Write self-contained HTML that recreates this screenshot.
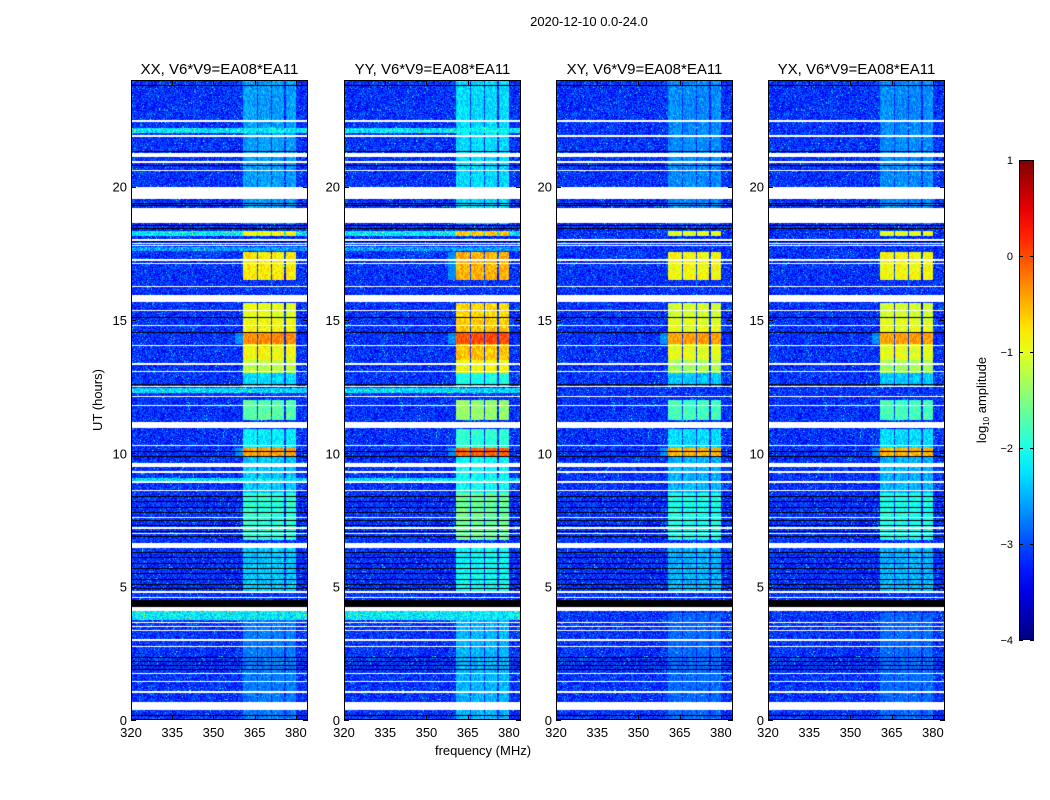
<!DOCTYPE html>
<html><head><meta charset="utf-8">
<style>
body{margin:0;background:#fff;width:1050px;height:800px;overflow:hidden;font-family:"Liberation Sans",sans-serif}
svg text{font-family:"Liberation Sans",sans-serif}
canvas{position:absolute}
</style></head>
<body>
<div id="wrap" style="position:relative;width:1050px;height:800px"></div>
<script>
// ---- data ----
const panelNames = ["XX","YY","XY","YX"];
const panelRfiOffset = [0, 0.3, -0.1, -0.1];
const panelBgBands = [true, true, false, false];
const freqTicks = [320,335,350,365,380];
const timeTicks = [0,5,10,15,20];
const cbarTicks = [1,0,-1,-2,-3,-4];
const rfiChannels = [[360.7,365.8],[366.3,370.8],[371.3,375.8],[376.3,380.2]];
const gapHours = [[22.42,22.5],[21.87,21.93],[21.1,21.27],[20.9,20.95],[20.57,20.63],[19.54,20.0],[18.63,19.2],[17.98,18.02],[17.86,17.89],[17.76,17.8],[17.23,17.27],[17.11,17.15],[16.23,16.27],[15.69,15.94],[15.35,15.39],[14.78,14.82],[14.04,14.08],[13.33,13.37],[13.04,13.08],[12.5,12.54],[12.1,12.14],[11.79,11.83],[10.95,11.17],[10.29,10.33],[9.49,9.64],[9.28,9.32],[8.88,8.95],[8.6,8.64],[7.58,7.62],[7.18,7.22],[6.98,7.02],[6.45,6.63],[4.78,4.82],[4.58,4.62],[4.1,4.24],[3.65,3.69],[3.48,3.52],[3.35,3.39],[2.98,3.02],[2.72,2.76],[1.74,1.78],[1.41,1.45],[1.03,1.07],[0.37,0.68]];
const blackBands = [[4.24,4.5]];
const blackLines = [23.8,21.35,20.8,19.4,19.3,18.55,18.45,17.95,15.1,14.55,12.6,10.1,9.9,8.4,8.2,8.0,7.8,7.5,7.3,7.1,6.9,6.3,6.1,5.9,5.7,5.5,5.3,5.1,4.95,2.35,2.2,2.05,1.9,0.19];
const bgBands = [[22.0,22.2,-2.2],[18.15,18.35,-2.2],[17.6,17.75,-2.6],[12.26,12.45,-2.3],[8.95,9.07,-2.3],[3.75,4.09,-2.2]];
const rfiBands = [[18.6,24,-2.6],[18.15,18.35,-0.9],[16.5,17.55,-0.8],[15.0,15.65,-1.0],[14.5,15.0,-0.9],[14.1,14.5,-0.3],[13.5,14.1,-0.9],[13.0,13.5,-1.2],[12.5,13.0,-2.3],[11.25,12.0,-1.7],[10.2,10.9,-2.2],[9.86,10.2,-0.4],[8.5,9.86,-2.4],[6.75,8.5,-1.9],[4.76,6.45,-2.4],[0,4.0,-2.8]];
const bgLevel = -3.15;

// ---- geometry ----
const panelLeft=[131,344,556,768], pTop=80, pW=177, pH=640;
const fMin=320, fMax=384.4, tMin=0, tMax=24;
const xOf=(f,i)=>panelLeft[i]+(f-fMin)/(fMax-fMin)*pW;
const yOf=t=>pTop+pH-(t-tMin)/(tMax-tMin)*pH;
const vMin=-4, vMax=1;
function jet(v){
  let x=(v-vMin)/(vMax-vMin); x=Math.max(0,Math.min(1,x));
  const c=t=>Math.max(0,Math.min(1,1.5-Math.abs(4*x-t)));
  return [c(3)*255,c(2)*255,c(1)*255];
}
function hash(a,b){let h=(a*374761393+b*668265263)|0;h=(h^(h>>>13))*1274126177|0;return ((h^(h>>>16))>>>0)/4294967295;}

const wrap=document.getElementById('wrap');
const NS="http://www.w3.org/2000/svg";
for(let i=0;i<4;i++){
  const cv=document.createElement('canvas');
  
  
  cv.width=pW;cv.height=pH;cv.style.left=panelLeft[i]+'px';cv.style.top=pTop+'px';
  const ctx=cv.getContext('2d');const img=ctx.createImageData(pW,pH);
  for(let py=0;py<pH;py++){
    const t=tMax-(py+0.5)/pH*(tMax-tMin);
    let kind=null;
    for(const g of gapHours) if(t>=g[0]&&t<g[1]) kind='w';
    for(const g of blackBands) if(t>=g[0]&&t<g[1]) kind='k';
    for(const b of blackLines) if(Math.abs(yOf(b)-pTop-py)<0.6) kind='k';
    let bg=bgLevel;
    if(panelBgBands[i]) for(const b of bgBands) if(t>=b[0]&&t<b[1]) bg=b[2];
    let rf=-9;
    for(const r of rfiBands) if(t>=r[0]&&t<r[1]) rf=r[2]+panelRfiOffset[i];
    for(let px=0;px<pW;px++){
      const k=(py*pW+px)*4;
      if(kind==='w'){img.data[k]=img.data[k+1]=img.data[k+2]=255;img.data[k+3]=255;continue;}
      if(kind==='k'){img.data[k]=img.data[k+1]=img.data[k+2]=0;img.data[k+3]=255;continue;}
      const f=fMin+(px+0.5)/pW*(fMax-fMin);
      const n=hash(px,py);
      let v=bg+(n-0.5)*0.9+(n>0.985?0.8:0);
      for(const ch of rfiChannels){
        if(f>=ch[0]&&f<ch[1]){v=Math.max(v,rf+(hash(px+999,py>>1)-0.5)*0.5);}
      }
      if(f>=358&&f<360.7&&rf>-0.6) v=Math.max(v,-2.7+(n-0.5)*0.4);
      const c=jet(v);img.data[k]=c[0];img.data[k+1]=c[1];img.data[k+2]=c[2];img.data[k+3]=255;
    }
  }
  ctx.putImageData(img,0,0);wrap.appendChild(cv);
}

// ---- axes SVG ----
const svg=document.createElementNS(NS,'svg');
svg.setAttribute('width',1050);svg.setAttribute('height',800);
svg.setAttribute('style','position:absolute;left:0;top:0');


wrap.appendChild(svg);
function el(tag,attrs,txt){const e=document.createElementNS(NS,tag);for(const a in attrs)e.setAttribute(a,attrs[a]);if(txt!==undefined)e.textContent=txt;svg.appendChild(e);return e;}

const suptitle=el('text',{x:589,y:26,'text-anchor':'middle','font-size':13},'2020-12-10 0.0-24.0');



for(let i=0;i<4;i++){
  const L=panelLeft[i];
  const fr=el('rect',{x:L+0.5,y:pTop+0.5,width:pW-1,height:pH-1,fill:'none',stroke:'#000','stroke-width':1});
  
  
  const tt=el('text',{x:L+pW/2,y:74,'text-anchor':'middle','font-size':15},panelNames[i]+', V6*V9=EA08*EA11');
  
  
  for(const f of freqTicks){
    const x=Math.round(xOf(f,i))+0.5;
    const tk=el('path',{d:`M${x},${pTop+pH}v-5M${x},${pTop}v5`,stroke:'#000','stroke-width':1});
    
    
    const lb=el('text',{x:xOf(f,i),y:737,'text-anchor':'middle','font-size':13},String(f));
    
    
  }
  for(const t of timeTicks){
    const y=Math.round(yOf(t))+0.5;
    const tk=el('path',{d:`M${L},${y}h5M${L+pW},${y}h-5`,stroke:'#000','stroke-width':1});
    
    
    const lb=el('text',{x:L-4,y:yOf(t)+5,'text-anchor':'end','font-size':13},String(t));
    
    
  }
}
const xt=el('text',{x:483,y:755,'text-anchor':'middle','font-size':13},'frequency (MHz)');


const yt=el('text',{x:0,y:0,'text-anchor':'middle','font-size':13,transform:'translate(102,400) rotate(-90)'},'UT (hours)');



// colorbar
const cbX=1019,cbW=15,cbTop=160,cbH=480;
const defs=el('defs',{});
const grad=document.createElementNS(NS,'linearGradient');
grad.setAttribute('id','jetg');grad.setAttribute('x1',0);grad.setAttribute('y1',1);grad.setAttribute('x2',0);grad.setAttribute('y2',0);
defs.appendChild(grad);
for(let s=0;s<=20;s++){const v=vMin+(vMax-vMin)*s/20;const c=jet(v);
  const st=document.createElementNS(NS,'stop');st.setAttribute('offset',s/20);st.setAttribute('stop-color',`rgb(${c.map(Math.round).join(',')})`);grad.appendChild(st);}
const cb=el('rect',{x:cbX+0.5,y:cbTop+0.5,width:cbW-1,height:cbH-1,fill:'url(#jetg)',stroke:'#000','stroke-width':1});


const cbY=v=>cbTop+cbH-(v-vMin)/(vMax-vMin)*cbH;
for(const v of cbarTicks){
  const y=Math.round(cbY(v))+0.5;
  const tk=el('path',{d:`M${cbX},${y}h4M${cbX+cbW},${y}h-4`,stroke:'#000','stroke-width':1});
  
  
  const lb=el('text',{x:1013,y:cbY(v)+4,'text-anchor':'end','font-size':11},v<0?'\u2212'+(-v):String(v));
  
  
}
const cbl=el('text',{x:0,y:0,'text-anchor':'middle','font-size':13,transform:'translate(986,400) rotate(-90)'});
cbl.innerHTML='log<tspan font-size="8" dy="3">10</tspan><tspan dy="-3"> amplitude</tspan>';


</script>
</body></html>
